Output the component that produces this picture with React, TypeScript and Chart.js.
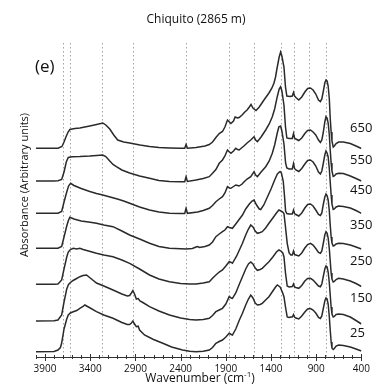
import React, { useEffect, useRef } from "react";
import { Chart, registerables } from "chart.js";

Chart.register(...registerables);

// ---- Data (wavenumber cm^-1, absorbance in arbitrary units, vertically offset) ----
const TICK_LABELS = [3900, 3400, 2900, 2400, 1900, 1400, 900, 400];
const MARKER_LINES = [3700, 3620, 3265, 2930, 2340, 1860, 1590, 1295, 1145, 985, 795];
const SERIES_NAMES = ["650", "550", "450", "350", "250", "150", "25"];
const LABEL_LEVELS = [228.7, 197, 166.3, 132, 95.3, 58.7, 23.7];
const LABEL_WAVENUMBER = 525;

const S650: [number, number][] = [
  [4000, 208.7], [3800, 208.7], [3757, 208.8], [3713, 210.5], [3690, 215], [3669, 220], [3645, 225], [3625, 227.5],
  [3570, 228.5], [3515, 229], [3405, 231], [3330, 232.5], [3261, 234], [3228, 232], [3184, 228], [3140, 222],
  [3096, 217], [3030, 215], [2964, 214], [2850, 212], [2744, 210.5], [2640, 209.5], [2524, 209], [2400, 208.7],
  [2355, 208.7], [2340, 212.5], [2325, 208.7], [2230, 209.5], [2130, 211], [2083, 212.5], [2047, 215], [2010, 219.5],
  [1973, 223.5], [1937, 225.5], [1910, 230], [1882, 237], [1860, 235], [1844, 233.5], [1815, 236], [1797, 240],
  [1770, 239], [1753, 239.5], [1720, 242], [1690, 245], [1665, 247], [1640, 250], [1621, 252.5], [1600, 249],
  [1566, 246.5], [1530, 250], [1478, 257], [1423, 264], [1390, 269], [1367, 274], [1350, 280], [1335, 288],
  [1310, 300], [1294, 305], [1280, 301], [1257, 290], [1240, 270], [1225, 261], [1190, 260.5], [1165, 261],
  [1151, 264.5], [1140, 261], [1125, 259.5], [1093, 257], [1060, 260], [1026, 265], [995, 268.5], [964, 269],
  [935, 267], [905, 263], [875, 257], [854, 255.5], [838, 258], [823, 265], [805, 274], [792, 277], [780, 276],
  [768, 271], [755, 258], [746, 240], [735, 225], [726, 216], [712, 210], [700, 211], [680, 213.5], [652, 215],
  [600, 215], [523, 213.5], [460, 211], [400, 208.5],
];

const S550: [number, number][] = [
  [4000, 176], [3800, 176], [3757, 176.2], [3716, 177.5], [3690, 185], [3665, 195], [3643, 199.5], [3600, 200.3],
  [3515, 200.5], [3405, 201], [3330, 201.5], [3261, 202], [3228, 200.5], [3184, 196], [3148, 192.5], [3111, 190.3],
  [3050, 187], [2964, 184], [2854, 181], [2744, 178.7], [2640, 176.5], [2524, 175.5], [2400, 175.3], [2355, 175.3],
  [2340, 180.3], [2325, 175.5], [2230, 177], [2150, 178.5], [2083, 180.3], [2047, 183.7], [2010, 187.5], [1973, 193.7],
  [1937, 197], [1910, 201], [1882, 207], [1860, 205], [1844, 203.7], [1815, 206], [1790, 208.7], [1770, 207.5],
  [1753, 207], [1720, 209.5], [1700, 211], [1665, 214], [1624, 217], [1588, 220.3], [1570, 217], [1551, 215.3],
  [1510, 220], [1459, 227], [1420, 233], [1386, 240.3], [1360, 248], [1331, 260.3], [1310, 268], [1294, 270.3],
  [1280, 266], [1257, 252], [1240, 230], [1225, 219], [1200, 218.5], [1165, 218.5], [1151, 223.5], [1140, 219],
  [1125, 218], [1093, 216.5], [1060, 219], [1026, 223.5], [995, 226.5], [964, 227], [935, 225], [905, 222],
  [875, 217], [854, 214.5], [838, 217], [823, 224], [805, 235], [792, 240.3], [780, 239], [768, 234], [755, 222],
  [746, 208], [735, 194], [726, 186], [712, 180.5], [700, 181], [680, 183], [652, 183.7], [600, 183.5], [523, 181],
  [460, 178.5], [400, 176],
];

const S450: [number, number][] = [
  [4000, 143.7], [3800, 143.7], [3757, 143.8], [3716, 145.5], [3690, 155], [3660, 165], [3640, 171], [3617, 173.7],
  [3580, 171.5], [3500, 168.5], [3405, 165.5], [3331, 163.5], [3261, 162], [3180, 160], [3100, 158], [3030, 156],
  [2964, 153.7], [2854, 150], [2744, 147], [2640, 145], [2524, 143.7], [2400, 143.5], [2355, 143.5], [2340, 148.7],
  [2325, 143.7], [2212, 145], [2150, 146.5], [2083, 148.7], [2047, 151.5], [2010, 155.3], [1973, 158], [1937, 160.3],
  [1910, 164], [1882, 170.3], [1860, 169], [1844, 168.7], [1815, 170.5], [1790, 172], [1770, 171.5], [1753, 171],
  [1720, 173], [1700, 175], [1665, 178], [1624, 180.3], [1588, 185.3], [1570, 182], [1551, 180.3], [1510, 185],
  [1459, 190.3], [1420, 196], [1386, 203.7], [1360, 212], [1331, 224], [1313, 230.3], [1294, 231], [1280, 226],
  [1257, 213], [1239, 194], [1225, 189], [1200, 188], [1165, 188], [1151, 193.5], [1140, 188.5], [1125, 187],
  [1093, 185.5], [1060, 188.5], [1026, 193], [995, 196.5], [964, 197], [935, 195], [905, 191], [875, 185], [854, 183],
  [838, 186], [823, 193], [805, 202], [792, 206], [780, 204], [768, 200], [755, 188], [746, 176], [735, 162],
  [726, 153], [712, 147.5], [700, 148], [680, 150], [652, 151], [600, 150.5], [523, 149], [460, 146.5], [400, 143.7],
];

const S350: [number, number][] = [
  [4000, 108.7], [3800, 108.7], [3757, 108.8], [3716, 110.5], [3690, 120], [3660, 131], [3640, 137], [3625, 139.8],
  [3580, 138], [3500, 136], [3400, 134.7], [3331, 133.7], [3250, 132], [3148, 130.3], [3050, 126], [2964, 122],
  [2854, 118], [2744, 113.7], [2640, 110.5], [2524, 108.7], [2400, 108.2], [2340, 108], [2270, 108.5], [2230, 110],
  [2212, 110.5], [2190, 109.5], [2130, 110.5], [2083, 112], [2047, 115], [2010, 120.3], [1973, 123], [1937, 125.3],
  [1910, 127], [1882, 130.3], [1860, 129.5], [1827, 128.7], [1790, 133], [1753, 137.5], [1716, 142], [1680, 148],
  [1640, 153], [1610, 156], [1588, 157], [1560, 152], [1530, 148], [1514, 147.5], [1480, 152], [1440, 160],
  [1400, 168], [1360, 177], [1330, 183], [1300, 185.5], [1285, 184], [1265, 176], [1250, 160], [1239, 146],
  [1225, 143.5], [1200, 143], [1165, 143], [1151, 147], [1140, 143.5], [1125, 142.5], [1093, 141], [1060, 144],
  [1026, 149], [995, 152.5], [964, 153], [935, 151], [905, 147], [875, 142.5], [854, 141.5], [838, 144], [823, 152],
  [805, 160], [792, 163], [780, 161.5], [768, 157], [755, 146], [746, 133], [735, 120], [726, 114], [712, 111],
  [700, 111.5], [680, 113], [652, 113.7], [600, 113.5], [523, 112], [460, 110], [400, 108],
];

const S250: [number, number][] = [
  [4000, 72.7], [3800, 72.7], [3757, 73], [3716, 77], [3690, 88], [3660, 100], [3643, 105], [3620, 107.5],
  [3588, 108.7], [3550, 108], [3515, 108.7], [3478, 107.5], [3400, 105.5], [3331, 103.7], [3250, 102], [3148, 100.3],
  [3050, 97], [2964, 93.7], [2854, 88], [2744, 82], [2640, 78], [2524, 75.3], [2400, 73.5], [2300, 73], [2230, 73],
  [2150, 74], [2083, 75.3], [2047, 78.7], [2010, 82], [1973, 85], [1937, 87], [1900, 91], [1863, 95.3], [1840, 94.5],
  [1827, 93.7], [1780, 101], [1740, 109], [1716, 113.7], [1680, 122], [1650, 128], [1624, 132], [1600, 130],
  [1575, 126], [1551, 123.7], [1520, 124.5], [1497, 125.3], [1460, 129], [1423, 133.7], [1380, 139], [1340, 144],
  [1313, 147], [1290, 146], [1270, 145], [1257, 143.5], [1240, 130], [1221, 113.7], [1200, 104], [1181, 102],
  [1165, 102], [1151, 106], [1140, 102.5], [1125, 102], [1093, 101], [1060, 104], [1026, 109], [995, 112.5],
  [964, 113.7], [935, 112], [905, 108.5], [875, 104.5], [854, 103.7], [838, 106], [823, 113], [805, 122], [792, 125.3],
  [780, 124], [768, 119], [755, 108], [746, 97], [735, 84], [726, 78], [712, 75], [700, 75.5], [680, 77.5],
  [652, 78.7], [600, 78], [523, 76], [460, 73.5], [400, 70.5],
];

const S150: [number, number][] = [
  [4000, 36], [3800, 36.3], [3757, 37], [3716, 42], [3690, 55], [3660, 68], [3640, 72.5], [3625, 74], [3590, 76.5],
  [3560, 78], [3515, 80.3], [3480, 81.5], [3441, 82], [3400, 79], [3331, 74], [3250, 71], [3148, 67], [3050, 63],
  [2990, 61], [2964, 61.5], [2945, 64], [2928, 66.5], [2910, 63], [2890, 58], [2870, 58.5], [2850, 56], [2818, 54.5],
  [2744, 50.3], [2640, 46], [2524, 42], [2400, 39], [2300, 37.5], [2230, 37], [2150, 37.5], [2083, 38.7], [2047, 41.5],
  [2010, 45.3], [1973, 47], [1937, 48.7], [1900, 53], [1863, 60.3], [1840, 59], [1827, 58.7], [1790, 64], [1750, 73],
  [1716, 80.3], [1680, 88], [1650, 93], [1624, 95], [1600, 93], [1575, 89], [1551, 86.7], [1520, 87.5], [1497, 88.7],
  [1460, 92], [1423, 95.3], [1380, 100], [1340, 105], [1313, 107], [1290, 106], [1270, 104], [1257, 100.3],
  [1240, 84], [1221, 71], [1200, 70], [1181, 70.3], [1165, 70.5], [1151, 73], [1140, 70], [1125, 69.5], [1093, 68.7],
  [1060, 71.5], [1026, 76], [995, 78.5], [964, 78.7], [935, 77], [905, 74], [875, 71], [854, 70.3], [838, 73],
  [823, 80], [805, 88], [792, 91], [780, 90], [768, 85], [755, 74], [746, 63], [735, 50], [726, 43], [712, 40],
  [700, 40.5], [680, 42.5], [652, 43], [600, 42.5], [523, 40], [460, 36.5], [400, 33],
];

const S25: [number, number][] = [
  [4000, 5.3], [3800, 5.5], [3757, 7], [3730, 9.5], [3716, 14], [3690, 28], [3660, 38], [3643, 42], [3620, 44],
  [3588, 45.3], [3550, 46.5], [3515, 48.7], [3480, 50.5], [3460, 52], [3420, 50], [3331, 45.3], [3250, 42],
  [3148, 38.7], [3050, 34.5], [2990, 32.5], [2964, 32.5], [2945, 34], [2928, 36], [2910, 33], [2890, 30.3],
  [2870, 30.8], [2854, 27], [2800, 22], [2700, 17.5], [2597, 13.7], [2500, 10], [2378, 7], [2300, 5.8], [2230, 5.3],
  [2150, 5.8], [2083, 7], [2047, 9.5], [2010, 13.7], [1973, 15.5], [1937, 17], [1900, 20], [1863, 23.7], [1840, 22.5],
  [1827, 22], [1790, 28], [1750, 37], [1716, 43.7], [1680, 52], [1650, 58], [1624, 62], [1600, 59], [1575, 54],
  [1551, 52], [1520, 52.5], [1497, 53.7], [1460, 57], [1423, 60.3], [1380, 66], [1350, 70], [1331, 72], [1300, 70],
  [1275, 65], [1257, 60.3], [1240, 50], [1221, 40], [1200, 39.5], [1181, 40], [1165, 40], [1151, 42.5], [1140, 40],
  [1125, 39], [1093, 38], [1060, 41], [1026, 45], [995, 48], [964, 48.5], [935, 47], [905, 44], [875, 39.5],
  [854, 38.5], [838, 41], [823, 48], [805, 56], [792, 59], [780, 58], [768, 53], [755, 40], [746, 28], [735, 15],
  [726, 9], [712, 7.5], [700, 8.5], [680, 11], [652, 12], [600, 11.5], [523, 10], [460, 8], [400, 6],
];

const SERIES = [S650, S550, S450, S350, S250, S150, S25];

const FONT = '"Open Sans", "DejaVu Sans", sans-serif';
const TEXT_COLOR = "#111111";

const decorPlugin = {
  id: "decor",
  beforeDatasetsDraw(chart: any) {
    const { ctx, chartArea, scales } = chart;
    const xs = scales.x;
    ctx.save();
    ctx.strokeStyle = "#9a9a9a";
    ctx.lineWidth = 0.9;
    ctx.setLineDash([1.5, 2.5]);
    for (const w of MARKER_LINES) {
      const px = Math.round(xs.getPixelForValue(w)) + 0.5;
      ctx.beginPath();
      ctx.moveTo(px, chartArea.top);
      ctx.lineTo(px, chartArea.bottom);
      ctx.stroke();
    }
    ctx.restore();
  },
  afterDraw(chart: any) {
    const { ctx, chartArea, scales } = chart;
    const xs = scales.x;
    const ys = scales.y;
    ctx.save();
    // tick marks
    ctx.strokeStyle = "#333";
    ctx.lineWidth = 1;
    const yb = chartArea.bottom;
    for (const t of xs.ticks) {
      const px = Math.round(xs.getPixelForValue(t.value)) + 0.5;
      const major = TICK_LABELS.includes(t.value);
      ctx.beginPath();
      ctx.moveTo(px, yb - (major ? 3 : 2));
      ctx.lineTo(px, yb + (major ? 4 : 2));
      ctx.stroke();
    }
    ctx.fillStyle = TEXT_COLOR;
    // title
    ctx.font = `12px ${FONT}`;
    ctx.textAlign = "center";
    ctx.textBaseline = "middle";
    ctx.fillText("Chiquito (2865 m)", 196, 20);
    // panel letter
    ctx.font = `17px ${FONT}`;
    ctx.textAlign = "left";
    ctx.fillText("(e)", 35, 67);
    // y axis label
    ctx.save();
    ctx.translate(25, 185);
    ctx.rotate(-Math.PI / 2);
    ctx.font = `11px ${FONT}`;
    ctx.textAlign = "center";
    ctx.fillText("Absorbance (Arbitrary units)", 0, 0);
    ctx.restore();
    // x axis title with superscript
    ctx.font = `12px ${FONT}`;
    const a = "Wavenumber (cm";
    const b = "-1";
    const c = ")";
    const wa = ctx.measureText(a).width;
    const wc = ctx.measureText(c).width;
    ctx.font = `8px ${FONT}`;
    const wb = ctx.measureText(b).width;
    const total = wa + wb + wc;
    const x0 = 200 - total / 2;
    const base = 382;
    ctx.textBaseline = "alphabetic";
    ctx.textAlign = "left";
    ctx.font = `12px ${FONT}`;
    ctx.fillText(a, x0, base);
    ctx.font = `8px ${FONT}`;
    ctx.fillText(b, x0 + wa, base - 5);
    ctx.font = `12px ${FONT}`;
    ctx.fillText(c, x0 + wa + wb, base);
    // series labels
    ctx.font = `13px ${FONT}`;
    ctx.textBaseline = "middle";
    const lx = xs.getPixelForValue(LABEL_WAVENUMBER);
    SERIES_NAMES.forEach((name, i) => {
      ctx.fillText(name, lx, ys.getPixelForValue(LABEL_LEVELS[i]));
    });
    ctx.restore();
  },
};

export default function App() {
  const canvasRef = useRef<HTMLCanvasElement | null>(null);

  useEffect(() => {
    if (!canvasRef.current) return;
    const chart = new Chart(canvasRef.current, {
      type: "line",
      data: {
        datasets: SERIES.map((s, i) => ({
          label: SERIES_NAMES[i],
          data: s.map(([x, y]) => ({ x, y })),
          borderColor: "#2a2a2a",
          borderWidth: 1.5,
          pointRadius: 0,
          tension: 0,
          fill: false,
        })),
      },
      options: {
        animation: false,
        responsive: true,
        maintainAspectRatio: false,
        layout: { padding: { left: 36, right: 12, top: 43, bottom: 0 } },
        plugins: {
          legend: { display: false },
          tooltip: { enabled: false },
          title: { display: false },
        },
        scales: {
          x: {
            type: "linear",
            reverse: true,
            min: 400,
            max: 4000,
            afterFit: (s: any) => {
              s.height = 34;
            },
            grid: { display: false, drawTicks: false },
            border: { display: true, color: "#333", width: 1 },
            ticks: {
              stepSize: 100,
              autoSkip: false,
              maxRotation: 0,
              minRotation: 0,
              padding: 6,
              color: TEXT_COLOR,
              font: { family: FONT, size: 10 },
              callback: (v: any) => (TICK_LABELS.includes(Number(v)) ? String(v) : ""),
            },
          },
          y: { display: false, min: 0, max: 314 },
        },
      },
      plugins: [decorPlugin],
    } as any);
    return () => chart.destroy();
  }, []);

  return (
    <div style={{ position: "absolute", left: 0, top: 0, width: 376, height: 391, background: "#fff" }}>
      <canvas ref={canvasRef} />
    </div>
  );
}
